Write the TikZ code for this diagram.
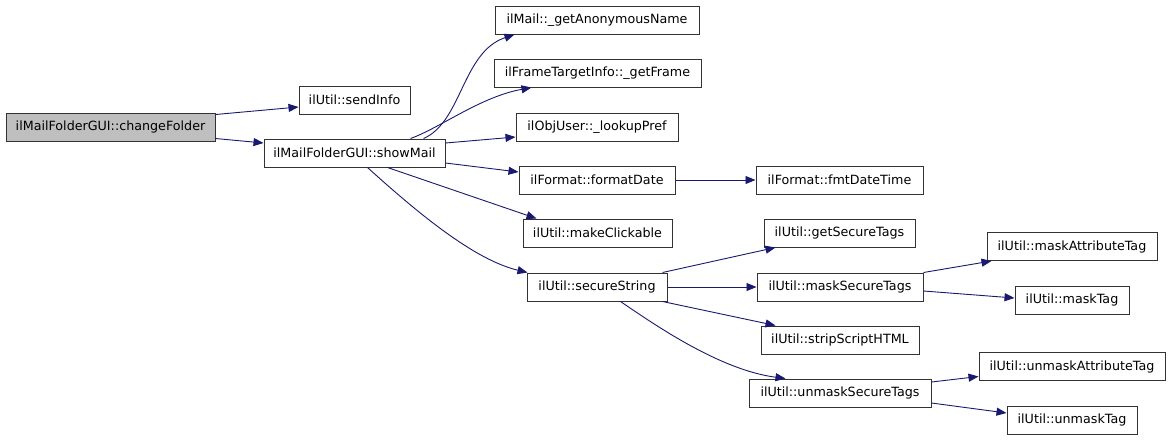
\documentclass[tikz,border=0pt]{standalone}
\usepackage{fontspec}
\setmainfont{DejaVu Sans}
\usetikzlibrary{arrows.meta}
\definecolor{edgecol}{RGB}{25,25,112}
\definecolor{rootfill}{RGB}{191,191,191}
\begin{document}
\begin{tikzpicture}[x=1pt,y=-1pt,
  fn/.style={draw=black!80,line width=1pt,fill=white,minimum height=28pt,inner sep=0pt,
    font=\fontsize{12.7}{14}\selectfont},
  rootfn/.style={fn,fill=rootfill},
  call/.style={draw=edgecol,line width=0.9pt,-{Triangle[length=10pt,width=8pt,fill=edgecol]}}]
\fill[white] (0,0) rectangle (1171,440);
\useasboundingbox (0,0) rectangle (1171,440);

\node[rootfn,minimum width=209pt] (changeFolder) at (110.5,127) {ilMailFolderGUI::changeFolder};
\node[fn,minimum width=111pt] (sendInfo) at (354.5,100) {ilUtil::sendInfo};
\node[fn,minimum width=181pt] (showMail) at (354.5,153) {ilMailFolderGUI::showMail};
\node[fn,minimum width=204pt] (getAnon) at (597,20) {ilMail::\_getAnonymousName};
\node[fn,minimum width=207pt] (getFrame) at (597.5,73) {ilFrameTargetInfo::\_getFrame};
\node[fn,minimum width=162pt] (lookupPref) at (597,127) {ilObjUser::\_lookupPref};
\node[fn,minimum width=156pt] (formatDate) at (597,180) {ilFormat::formatDate};
\node[fn,minimum width=167pt] (fmtDateTime) at (839.5,180) {ilFormat::fmtDateTime};
\node[fn,minimum width=149pt] (makeClickable) at (597.5,233) {ilUtil::makeClickable};
\node[fn,minimum width=140pt] (secureString) at (597,287) {ilUtil::secureString};
\node[fn,minimum width=151pt] (getSecureTags) at (839.5,233) {ilUtil::getSecureTags};
\node[fn,minimum width=166pt] (maskSecureTags) at (840,287) {ilUtil::maskSecureTags};
\node[fn,minimum width=158pt] (stripScriptHTML) at (840,340) {ilUtil::stripScriptHTML};
\node[fn,minimum width=182pt] (unmaskSecureTags) at (840,393) {ilUtil::unmaskSecureTags};
\node[fn,minimum width=170pt] (maskAttributeTag) at (1072,246.5) {ilUtil::maskAttributeTag};
\node[fn,minimum width=114pt] (maskTag) at (1072,300) {ilUtil::maskTag};
\node[fn,minimum width=186pt] (unmaskAttributeTag) at (1072,366.5) {ilUtil::unmaskAttributeTag};
\node[fn,minimum width=130pt] (unmaskTag) at (1072,420) {ilUtil::unmaskTag};

\draw[call] ([yshift=-2pt]changeFolder.north east) -- ([yshift=-7pt]sendInfo.west);
\draw[call] ([yshift=3pt]changeFolder.south east) -- ([yshift=10pt]showMail.west);
\draw[call] ([xshift=-22pt]showMail.north east) .. controls (462,122) and (462,52) .. ([xshift=20pt]getAnon.south west);
\draw[call] ([xshift=-35pt]showMail.north east) .. controls (440,128) and (480,97) .. ([xshift=38pt]getFrame.south west);
\draw[call] ([yshift=10pt]showMail.east) -- ([yshift=-10pt]lookupPref.west);
\draw[call] ([yshift=-10pt]showMail.east) -- ([yshift=8pt]formatDate.west);
\draw[call] ([xshift=124pt]showMail.south west) -- ([xshift=14pt]makeClickable.north west);
\draw[call] ([xshift=104pt]showMail.south west) .. controls (420,215) and (475,260) .. ([xshift=1pt]secureString.north west);
\draw[call] (formatDate.east) -- (fmtDateTime.west);
\draw[call] ([xshift=-5pt]secureString.north east) -- ([xshift=12pt]getSecureTags.south west);
\draw[call] (secureString.east) -- (maskSecureTags.west);
\draw[call] ([xshift=-5pt]secureString.south east) -- ([xshift=15pt]stripScriptHTML.north west);
\draw[call] ([xshift=94pt]secureString.south west) .. controls (655,325) and (720,370) .. ([xshift=37pt]unmaskSecureTags.north west);
\draw[call] (maskSecureTags.north east) -- ([xshift=5pt]maskAttributeTag.south west);
\draw[call] ([yshift=-4pt]maskSecureTags.east) -- ([yshift=2pt]maskTag.west);
\draw[call] ([yshift=11pt]unmaskSecureTags.east) -- ([yshift=-10pt]unmaskAttributeTag.west);
\draw[call] ([yshift=-10pt]unmaskSecureTags.east) -- ([yshift=7pt]unmaskTag.west);
\end{tikzpicture}
\end{document}
